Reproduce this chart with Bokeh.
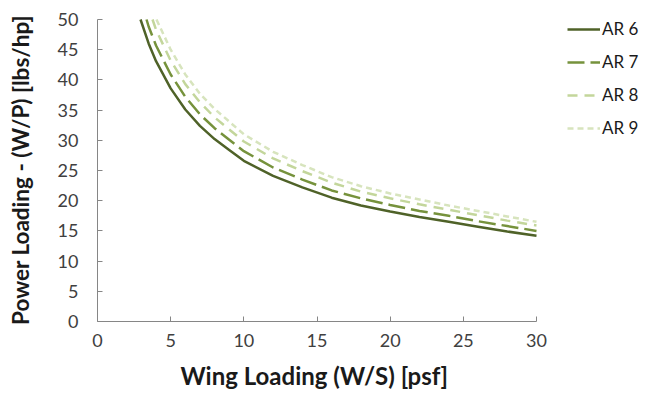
from bokeh.plotting import figure
from bokeh.models import Legend, LegendItem, Range1d, FixedTicker, Title
from bokeh.embed import file_html
from bokeh.resources import INLINE

# Wing loading (W/S) [psf] sample points per series and power loading (W/P) [lbs/hp]
ws_ar6 = [2.94, 3.5, 4, 5, 6, 7, 8, 9, 10, 12, 14, 16, 18, 20, 22, 24, 26, 28, 30]
wp_ar6 = [50.0, 46.0, 43.1, 38.6, 35.1, 32.4, 30.2, 28.4, 26.6, 24.1, 22.2, 20.5, 19.2, 18.2, 17.3, 16.5, 15.7, 14.9, 14.2]

ws_ar7 = [3.35, 3.5, 4, 5, 6, 7, 8, 9, 10, 12, 14, 16, 18, 20, 22, 24, 26, 28, 30]
wp_ar7 = [50.0, 48.8, 45.7, 40.9, 37.2, 34.3, 32.0, 30.1, 28.2, 25.5, 23.5, 21.7, 20.4, 19.3, 18.3, 17.5, 16.6, 15.8, 15.0]

ws_ar8 = [3.76, 4, 5, 6, 7, 8, 9, 10, 12, 14, 16, 18, 20, 22, 24, 26, 28, 30]
wp_ar8 = [50.0, 48.3, 43.2, 39.3, 36.3, 33.8, 31.8, 29.8, 27.0, 24.9, 23.0, 21.5, 20.4, 19.4, 18.5, 17.6, 16.7, 15.9]

ws_ar9 = [4.03, 5, 6, 7, 8, 9, 10, 12, 14, 16, 18, 20, 22, 24, 26, 28, 30]
wp_ar9 = [50.0, 45.0, 40.9, 37.7, 35.2, 33.1, 31.0, 28.1, 25.9, 23.9, 22.4, 21.2, 20.2, 19.2, 18.3, 17.4, 16.5]

series_names = ["AR 6", "AR 7", "AR 8", "AR 9"]
x_ticks = [0, 5, 10, 15, 20, 25, 30]
y_ticks = [0, 5, 10, 15, 20, 25, 30, 35, 40, 45, 50]

colors = ["#4F6228", "#76923C", "#C3D69B", "#D7E4BD"]
dashes = ["solid", "17 6", "10 7", "6 4"]

# frame extends to the right edge so the legend can sit inside it;
# axis lines stop at 30 and 50
X_END = 553 / (439 / 30)
Y_END = 304 / (303 / 50)

p = figure(width=650, height=398, output_backend="svg", toolbar_location=None,
           x_range=Range1d(0, X_END), y_range=Range1d(0, Y_END),
           min_border_left=97, min_border_right=0, min_border_top=18, min_border_bottom=76)
p.outline_line_color = None
p.grid.visible = False
p.background_fill_color = "white"
p.border_fill_color = "white"

xs = [ws_ar6, ws_ar7, ws_ar8, ws_ar9]
ys = [wp_ar6, wp_ar7, wp_ar8, wp_ar9]
renderers = []
for x, y, c, d in zip(xs, ys, colors, dashes):
    r = p.line(x, y, line_color=c, line_width=2.5, line_dash=d)
    renderers.append(r)

for ax in (p.xaxis[0], p.yaxis[0]):
    ax.axis_line_color = "#868686"
    ax.major_tick_line_color = "#868686"
    ax.major_tick_in = 5
    ax.major_tick_out = 0
    ax.minor_tick_line_color = None
    ax.major_label_text_font = "Lato"
    ax.major_label_text_font_size = "18px"
    ax.major_label_text_color = "#404040"
    ax.axis_label_text_font = "Lato"
    ax.axis_label_text_font_size = "22.5px"
    ax.axis_label_text_font_style = "bold"
    ax.axis_label_text_color = "#1a1a1a"

p.xaxis.bounds = (0, 30)
p.yaxis.bounds = (0, 50)
p.xaxis.ticker = FixedTicker(ticks=x_ticks)
p.yaxis.ticker = FixedTicker(ticks=y_ticks)
p.yaxis.axis_label = "Power Loading - (W/P) [lbs/hp]"
p.xaxis.major_label_standoff = 12
p.yaxis.major_label_standoff = 19
p.yaxis.axis_label_standoff = 21

xtitle = Title(text="Wing Loading (W/S) [psf]", align="left", offset=83, standoff=18,
               text_font="Lato", text_font_size="24px", text_font_style="bold",
               text_color="#1a1a1a")
p.add_layout(xtitle, "below")

legend = Legend(items=[LegendItem(label=n, renderers=[r]) for n, r in zip(series_names, renderers)],
                location=(470, 183), border_line_color=None, background_fill_alpha=0,
                padding=0, margin=0, spacing=12, glyph_width=33, glyph_height=20,
                label_standoff=2, label_text_font="Lato", label_text_font_size="17px",
                label_text_color="#1a1a1a", label_height=20)
p.add_layout(legend, "center")

open("out.html", "w").write(file_html(p, INLINE))
